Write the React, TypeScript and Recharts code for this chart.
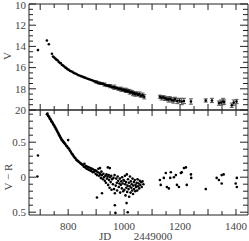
import { ScatterChart, Scatter, XAxis, YAxis, ErrorBar } from "recharts";

// V light curve: [JD - 2449000, V, error]
const vEarly: number[][] = [
  [692, 14.35, 0], [724, 13.45, 0], [731, 13.8, 0], [742, 14.7, 0], [746, 14.95, 0],
];
const vDecline: number[][] = [
  [750, 15.05, 0], [754, 15.15, 0], [758, 15.25, 0], [762, 15.3, 0], [766, 15.45, 0],
  [770, 15.55, 0], [774, 15.6, 0], [778, 15.75, 0], [782, 15.8, 0], [786, 15.9, 0],
  [790, 16.0, 0], [794, 16.05, 0], [798, 16.15, 0], [802, 16.2, 0], [806, 16.3, 0],
  [810, 16.35, 0], [815, 16.4, 0], [820, 16.5, 0], [825, 16.55, 0], [830, 16.6, 0],
  [835, 16.7, 0], [840, 16.75, 0], [845, 16.8, 0], [850, 16.85, 0], [855, 16.9, 0],
  [860, 16.95, 0], [865, 17.0, 0], [870, 17.05, 0], [875, 17.1, 0], [880, 17.15, 0],
  [885, 17.2, 0], [890, 17.25, 0], [895, 17.3, 0], [900, 17.35, 0.1], [905, 17.4, 0.05],
  [910, 17.45, 0.1], [915, 17.5, 0.05], [920, 17.5, 0.1], [925, 17.55, 0.05], [930, 17.6, 0.15],
  [935, 17.65, 0.05], [940, 17.7, 0.1], [945, 17.7, 0.05], [950, 17.75, 0.15], [955, 17.8, 0.05],
  [960, 17.85, 0.1], [965, 17.85, 0.2], [970, 17.9, 0.1], [975, 17.95, 0.05], [980, 18.0, 0.15],
  [985, 18.0, 0.1], [990, 18.05, 0.2], [995, 18.1, 0.1],
];
const vCluster1: number[][] = [
  [1000, 18.1, 0.15], [1004, 18.2, 0.1], [1008, 18.15, 0.2], [1012, 18.25, 0.1], [1016, 18.2, 0.15],
  [1020, 18.3, 0.2], [1024, 18.35, 0.1], [1028, 18.3, 0.15], [1032, 18.45, 0.2], [1036, 18.4, 0.1],
  [1040, 18.5, 0.2], [1045, 18.45, 0.15], [1050, 18.55, 0.1], [1055, 18.5, 0.2], [1060, 18.65, 0.15],
  [1066, 18.6, 0.2], [1072, 18.75, 0.2],
];
const vCluster2: number[][] = [
  [1128, 18.75, 0.15], [1134, 18.85, 0.2], [1140, 18.8, 0.15], [1146, 18.9, 0.2], [1152, 18.95, 0.15],
  [1158, 19.0, 0.25], [1164, 18.95, 0.2], [1170, 19.05, 0.2], [1176, 19.1, 0.25], [1182, 19.0, 0.2],
  [1190, 19.15, 0.25], [1198, 19.1, 0.2], [1206, 19.2, 0.3], [1214, 19.15, 0.25], [1239, 19.2, 0.25],
];
const vCluster3: number[][] = [
  [1292, 19.1, 0.15], [1314, 19.1, 0.2], [1339, 19.35, 0.2], [1347, 19.3, 0.25], [1354, 19.2, 0.3],
  [1358, 19.25, 0.2], [1385, 19.55, 0.2], [1392, 19.3, 0.25], [1402, 19.2, 0.2],
];

// V - R colour: [JD - 2449000, V-R]
const vrEarly: number[][] = [[692, 0.31], [690, 0.01]];
const vrDecline: number[][] = [
  [724, 0.9], [726, 0.91], [728, 0.88], [730, 0.87], [732, 0.86], [734, 0.84], [736, 0.83],
  [738, 0.82], [740, 0.8], [742, 0.79], [744, 0.78], [746, 0.76], [748, 0.75], [750, 0.74],
  [752, 0.72], [754, 0.71], [756, 0.69], [758, 0.68], [760, 0.66], [762, 0.65], [764, 0.63],
  [766, 0.62], [768, 0.6], [770, 0.59], [772, 0.57], [774, 0.56], [776, 0.54], [778, 0.53],
  [780, 0.52], [782, 0.51], [784, 0.5], [786, 0.49], [788, 0.48], [790, 0.47], [793, 0.45],
  [796, 0.44], [799, 0.42], [800, 0.53], [802, 0.41], [805, 0.39], [808, 0.37], [811, 0.35],
  [814, 0.33], [817, 0.32], [820, 0.3], [823, 0.28], [826, 0.27], [829, 0.25], [832, 0.24],
  [835, 0.23], [838, 0.22], [841, 0.21], [844, 0.2], [847, 0.19], [850, 0.18],
];
const vrScatter: number[][] = [
  [853, 0.17], [856, 0.15], [858, 0.19], [861, 0.14], [864, 0.16], [866, 0.12], [869, 0.15],
  [872, 0.11], [874, 0.14], [877, 0.1], [880, 0.13], [882, 0.09], [885, 0.12], [888, 0.07],
  [890, 0.11], [893, 0.08], [896, 0.1], [898, 0.05], [901, 0.09], [903, 0.03], [903, -0.29],
  [906, 0.07], [908, 0.12], [910, 0.02], [912, 0.06], [914, 0.13], [915, 0.04], [917, -0.01],
  [919, 0.08], [921, 0.03], [921, -0.23], [924, -0.03], [926, 0.05], [928, 0.0], [931, -0.05],
  [933, 0.02], [935, -0.08], [937, 0.04], [939, -0.02], [941, 0.01], [942, 0.14], [943, -0.11],
  [945, 0.03], [946, -0.04], [948, -0.15], [949, 0.13], [950, 0.0], [952, -0.07], [954, 0.02],
  [955, -0.18], [957, -0.03], [960, -0.1], [962, -0.01], [964, -0.17], [966, 0.03], [967, -0.23],
  [967, -0.4], [969, -0.51], [970, -0.12], [972, -0.02], [974, -0.08], [975, -0.19], [977, 0.01],
  [979, -0.05], [981, -0.14], [983, -0.09], [985, -0.02], [986, -0.22], [988, -0.11], [990, -0.06],
  [992, -0.16], [993, 0.0], [995, -0.09], [997, -0.2], [998, -0.04],
];
const vrCluster1: number[][] = [
  [1000, -0.05], [1001, -0.18], [1003, 0.02], [1004, -0.1], [1005, -0.26], [1007, -0.07],
  [1008, -0.15], [1009, -0.37], [1010, 0.04], [1011, -0.21], [1012, -0.12], [1013, -0.5],
  [1014, -0.03], [1016, -0.17], [1017, -0.08], [1018, -0.28], [1020, -0.13], [1021, 0.01],
  [1023, -0.22], [1024, -0.06], [1026, -0.15], [1027, -0.1], [1029, -0.19], [1030, -0.02],
  [1032, -0.24], [1033, -0.12], [1035, -0.07], [1036, -0.17], [1038, -0.04], [1040, -0.2],
  [1041, -0.11], [1043, -0.14], [1045, -0.08], [1047, -0.19], [1048, -0.03], [1050, -0.13],
  [1052, -0.09], [1054, -0.16], [1056, -0.05], [1058, -0.11], [1061, -0.07], [1063, -0.14],
  [1066, -0.06], [1069, -0.1],
];
const vrCluster2: number[][] = [
  [1128, -0.04], [1131, -0.11], [1142, -0.01], [1149, 0.06], [1153, -0.14], [1160, -0.16],
  [1165, -0.01], [1167, 0.07], [1178, 0.0], [1185, 0.03], [1189, -0.11], [1196, -0.14],
  [1203, 0.06], [1206, 0.07], [1214, 0.13], [1221, 0.14], [1224, -0.11], [1239, 0.04], [1240, -0.01],
];
const vrCluster3: number[][] = [
  [1292, -0.17], [1331, -0.01], [1339, -0.04], [1349, 0.03], [1349, -0.09], [1356, 0.04],
  [1399, -0.09], [1403, -0.01], [1403, -0.14],
];

const xDomain = [660, 1443];
const xTicks = [700, 750, 800, 850, 900, 950, 1000, 1050, 1100, 1150, 1200, 1250, 1300, 1350, 1400];
const xLabels = [800, 1000, 1200, 1400];
const vTicks = [10, 10.5, 11, 11.5, 12, 12.5, 13, 13.5, 14, 14.5, 15, 15.5, 16, 16.5, 17, 17.5, 18, 18.5, 19, 19.5, 20];
const vLabels = [10, 12, 14, 16, 18, 20];
const vrTicks = [-0.5, -0.4, -0.3, -0.2, -0.1, 0, 0.1, 0.2, 0.3, 0.4, 0.5, 0.6, 0.7, 0.8, 0.9];
const vrLabels = [-0.5, 0, 0.5];

const FONT = "'Liberation Serif', serif";
const INK = "#222";
const TEXT = "#444";

const toV = (rows: number[][]) => rows.map(([jd, v, e]) => ({ jd, v, e }));
const toVR = (rows: number[][]) => rows.map(([jd, vr]) => ({ jd, vr }));

const vData = toV([...vEarly, ...vDecline, ...vCluster1, ...vCluster2, ...vCluster3]);
const vrData = toVR([...vrEarly, ...vrDecline, ...vrScatter, ...vrCluster1, ...vrCluster2, ...vrCluster3]);

const near = (a: number, b: number) => Math.abs(a - b) < 1e-6;

// inward ticks drawn at the axis line, optional label outside
function makeTick(
  side: "bottom" | "top" | "left" | "right",
  isMajor: (v: number) => boolean,
  major: number,
  minor: number,
  labels?: number[],
  fmt: (v: number) => string = (v) => String(v)
) {
  return (props: any) => {
    const { x, y, payload } = props;
    const v = payload.value;
    const len = isMajor(v) ? major : minor;
    let x2 = x;
    let y2 = y;
    if (side === "bottom") y2 = y - len;
    if (side === "top") y2 = y + len;
    if (side === "left") x2 = x + len;
    if (side === "right") x2 = x - len;
    const show = labels && labels.some((l) => near(l, v));
    return (
      <g>
        <line x1={x} y1={y} x2={x2} y2={y2} stroke={INK} strokeWidth={1} />
        {show && side === "bottom" && (
          <text x={x} y={y + 15} textAnchor="middle" fontSize={11} fontFamily={FONT} fill={TEXT}>
            {fmt(v)}
          </text>
        )}
        {show && side === "left" && (
          <text x={x - 3} y={Math.max(y, 5)} dy="0.35em" textAnchor="end" fontSize={11} fontFamily={FONT} fill={TEXT}>
            {fmt(v)}
          </text>
        )}
      </g>
    );
  };
}

const xMajor = (v: number) => v % 100 === 0;
const vMajor = (v: number) => v % 2 === 0;
const vrMajor = (v: number) => near(v * 2, Math.round(v * 2));

const dot = (p: any) => <circle cx={p.cx} cy={p.cy} r={1.3} fill="#000" />;

const axisCommon = {
  tickLine: false,
  tickSize: 0,
  tickMargin: 0,
  interval: 0 as const,
  axisLine: { stroke: INK },
  allowDataOverflow: true,
};

function Title({ text, x, y, rotate }: { text: string; x: number; y: number; rotate?: boolean }) {
  return (
    <div
      style={{
        position: "absolute",
        left: x,
        top: y,
        transform: `translate(-50%, -50%)${rotate ? " rotate(-90deg)" : ""}`,
        fontFamily: FONT,
        fontSize: 11,
        color: TEXT,
        whiteSpace: "nowrap",
        lineHeight: 1,
      }}
    >
      {text}
    </div>
  );
}

export default function App() {
  return (
    <div style={{ position: "absolute", left: 0, top: 0, width: 249, height: 241, background: "#fff" }}>
      <div style={{ position: "absolute", left: 0, top: 0 }}>
        <ScatterChart width={249} height={241} margin={{ top: 0, right: 0, bottom: 0, left: 0 }}>
          <XAxis xAxisId="b" dataKey="jd" type="number" domain={xDomain} ticks={xTicks} height={131}
            {...axisCommon} tick={makeTick("bottom", xMajor, 6, 4)} />
          <XAxis xAxisId="t" orientation="top" dataKey="jd" type="number" domain={xDomain} ticks={xTicks} height={4}
            {...axisCommon} tick={makeTick("top", xMajor, 6, 4)} />
          <YAxis yAxisId="l" dataKey="v" type="number" domain={[10, 20]} reversed ticks={vTicks} width={29}
            {...axisCommon} tick={makeTick("left", vMajor, 7, 4, vLabels)} />
          <YAxis yAxisId="r" orientation="right" dataKey="v" type="number" domain={[10, 20]} reversed ticks={vTicks} width={1}
            {...axisCommon} tick={makeTick("right", vMajor, 8, 5)} />
          <Scatter xAxisId="b" yAxisId="l" data={vData} dataKey="v" shape={dot} isAnimationActive={false}>
            <ErrorBar dataKey="e" direction="y" width={2} stroke="#555" strokeWidth={1} isAnimationActive={false} />
          </Scatter>
        </ScatterChart>
      </div>
      <div style={{ position: "absolute", left: 0, top: 0 }}>
        <ScatterChart width={249} height={241} margin={{ top: 0, right: 0, bottom: 0, left: 0 }}>
          <XAxis xAxisId="b" dataKey="jd" type="number" domain={xDomain} ticks={xTicks} height={26}
            {...axisCommon} tick={makeTick("bottom", xMajor, 6, 4, xLabels)} />
          <XAxis xAxisId="t" orientation="top" dataKey="jd" type="number" domain={xDomain} ticks={xTicks} height={110}
            {...axisCommon} tick={makeTick("top", xMajor, 6, 4)} />
          <YAxis yAxisId="l" dataKey="vr" type="number" domain={[-0.54, 0.96]} ticks={vrTicks} width={29}
            {...axisCommon} tick={makeTick("left", vrMajor, 7, 4, vrLabels, (v) => String(Math.abs(v)))} />
          <YAxis yAxisId="r" orientation="right" dataKey="vr" type="number" domain={[-0.54, 0.96]} ticks={vrTicks} width={1}
            {...axisCommon} tick={makeTick("right", vrMajor, 8, 5)} />
          <Scatter xAxisId="b" yAxisId="l" data={vrData} dataKey="vr" shape={dot} isAnimationActive={false} />
        </ScatterChart>
      </div>
      <Title text="V" x={7} y={56} rotate />
      <Title text="V − R" x={8} y={177} rotate />
      <Title text="JD" x={105} y={236} />
      <Title text="2449000" x={153} y={236} />
    </div>
  );
}
